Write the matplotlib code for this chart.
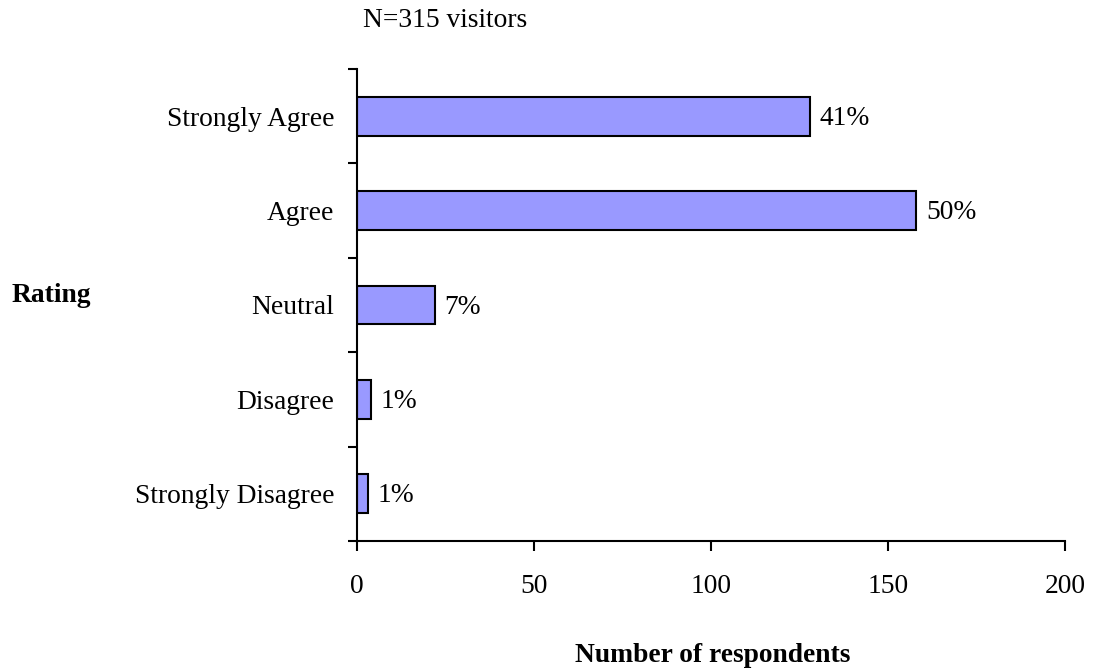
import numpy as np
import matplotlib
matplotlib.use('Agg')
import matplotlib.pyplot as plt

# Survey responses, top to bottom as shown
ratings = ['Strongly Agree', 'Agree', 'Neutral', 'Disagree', 'Strongly Disagree']
counts = [128, 158, 22, 4, 3]
x_ticks = [0, 50, 100, 150, 200]

total = sum(counts)
pct_labels = [f'{round(c / total * 100)}%' for c in counts]

plt.rcParams['font.family'] = ['Liberation Serif', 'DejaVu Serif']
plt.rcParams['font.size'] = 19.8

W, H = 1093, 671
fig = plt.figure(figsize=(W / 100, H / 100), dpi=100)
ax = fig.add_axes([357 / W, 1 - 541 / H, (1065 - 357) / W, (541 - 69) / H])

# reverse so the first category sits on top
ypos = np.arange(len(ratings))[::-1]
ax.barh(ypos, counts, height=0.41, color='#9999ff', edgecolor='black', linewidth=1.5)

for y, c, lab in zip(ypos, counts, pct_labels):
    ax.annotate(lab, xy=(c, y), xytext=(7, -1.5), textcoords='offset points',
                va='center', ha='left')

ax.set_xlim(0, 200)
ax.set_ylim(-0.5, len(ratings) - 0.5)
ax.set_xticks(x_ticks)
ax.set_xticklabels([str(t) for t in x_ticks])

# labels at band centres, tick marks on band edges
ax.set_yticks(ypos)
ax.set_yticklabels(ratings)
ax.set_yticks(np.arange(-0.5, len(ratings)), minor=True)
ax.tick_params(axis='y', which='major', length=0, pad=16.5)
ax.tick_params(axis='y', which='minor', length=6.5, width=1.5, direction='out')
ax.tick_params(axis='x', length=7, width=1.5, direction='out', pad=17)

for side in ['top', 'right']:
    ax.spines[side].set_visible(False)
for side in ['left', 'bottom']:
    ax.spines[side].set_linewidth(1.5)

fig.text(363 / W, 1 - 27 / H, 'N=315 visitors', ha='left', va='baseline')
fig.text(12 / W, 1 - 302 / H, 'Rating', ha='left', va='baseline', fontweight='bold')
fig.text(713 / W, 1 - 662 / H, 'Number of respondents', ha='center', va='baseline',
         fontweight='bold')

fig.savefig('out.png', dpi=100)
